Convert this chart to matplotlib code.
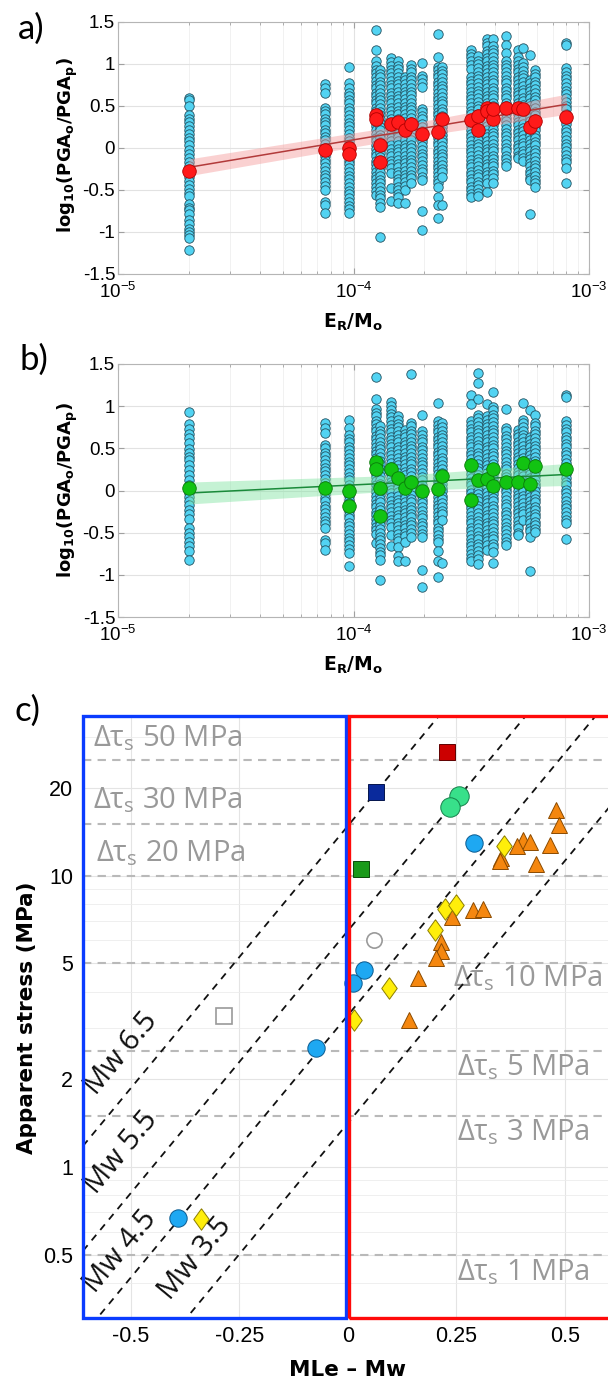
import matplotlib
matplotlib.use("Agg")
import matplotlib.pyplot as plt
import matplotlib.ticker as mticker
from matplotlib.patches import Rectangle
import numpy as np

plt.rcParams['font.family'] = ['Liberation Sans', 'DejaVu Sans']
plt.rcParams['mathtext.fontset'] = 'dejavusans'

# ---------------- panels a) and b): one column of stations per event ----------------
EVENT_X = [2.0e-5, 7.6e-5, 9.6e-5, 1.25e-4, 1.30e-4, 1.44e-4, 1.55e-4, 1.66e-4, 1.75e-4,
           1.95e-4, 2.28e-4, 2.38e-4, 3.17e-4, 3.38e-4, 3.69e-4, 3.91e-4, 4.44e-4, 5.0e-4,
           5.25e-4, 5.61e-4, 5.90e-4, 7.98e-4]

a_cols = [
    [0.60, 0.57, 0.50, 0.39, 0.35, 0.31, 0.26, 0.21, 0.17, 0.12, 0.08, 0.03, -0.02, -0.07, -0.12, -0.17, -0.21, -0.26, -0.30, -0.35, -0.39, -0.44, -0.49, -0.53, -0.57, -0.67, -0.71, -0.74, -0.78, -0.86, -0.91, -0.96, -1.00, -1.04, -1.07, -1.21],
    [0.76, 0.71, 0.66, 0.48, 0.44, 0.40, 0.35, 0.31, 0.27, 0.22, 0.18, 0.13, 0.09, 0.05, 0.00, -0.05, -0.09, -0.14, -0.18, -0.23, -0.27, -0.32, -0.36, -0.41, -0.45, -0.50, -0.64, -0.68, -0.77],
    [0.97, 0.77, 0.71, 0.66, 0.62, 0.57, 0.53, 0.48, 0.44, 0.39, 0.35, 0.30, 0.26, 0.21, 0.17, 0.12, 0.08, 0.03, -0.01, -0.06, -0.10, -0.15, -0.19, -0.24, -0.28, -0.33, -0.37, -0.42, -0.46, -0.51, -0.55, -0.60, -0.64, -0.69, -0.73, -0.77],
    [1.40, 1.17, 1.03, 0.98, 0.93, 0.89, 0.84, 0.80, 0.75, 0.71, 0.66, 0.62, 0.57, 0.53, 0.48, 0.44, 0.39, 0.35, 0.30, 0.26, 0.21, 0.17, 0.12, 0.08, 0.03, -0.01, -0.06, -0.10, -0.15, -0.19, -0.24, -0.28, -0.33, -0.37, -0.42, -0.46, -0.51, -0.56],
    [0.93, 0.88, 0.84, 0.79, 0.75, 0.70, 0.66, 0.61, 0.57, 0.52, 0.48, 0.43, 0.39, 0.34, 0.30, 0.25, 0.21, 0.16, 0.12, 0.07, 0.03, -0.02, -0.06, -0.11, -0.15, -0.20, -0.24, -0.29, -0.33, -0.38, -0.42, -0.47, -0.51, -0.56, -0.60, -0.65, -0.70, -1.06],
    [1.07, 1.02, 0.98, 0.93, 0.89, 0.84, 0.80, 0.75, 0.71, 0.66, 0.62, 0.57, 0.53, 0.48, 0.44, 0.39, 0.35, 0.30, 0.26, 0.21, 0.17, 0.12, 0.08, 0.03, -0.01, -0.06, -0.10, -0.15, -0.19, -0.24, -0.30, -0.48, -0.63],
    [1.03, 0.98, 0.94, 0.89, 0.85, 0.80, 0.76, 0.71, 0.67, 0.62, 0.58, 0.53, 0.49, 0.44, 0.40, 0.35, 0.31, 0.26, 0.22, 0.17, 0.13, 0.08, 0.04, -0.01, -0.05, -0.10, -0.14, -0.19, -0.23, -0.28, -0.32, -0.37, -0.41, -0.46, -0.50, -0.55, -0.58, -0.65],
    [0.85, 0.81, 0.76, 0.72, 0.67, 0.63, 0.58, 0.54, 0.49, 0.45, 0.40, 0.36, 0.31, 0.27, 0.22, 0.18, 0.13, 0.09, 0.04, 0.00, -0.05, -0.09, -0.14, -0.18, -0.23, -0.27, -0.32, -0.36, -0.41, -0.45, -0.50, -0.66],
    [0.99, 0.94, 0.90, 0.85, 0.81, 0.76, 0.72, 0.67, 0.63, 0.58, 0.54, 0.49, 0.45, 0.40, 0.36, 0.31, 0.27, 0.22, 0.18, 0.13, 0.09, 0.04, 0.00, -0.05, -0.09, -0.14, -0.18, -0.23, -0.27, -0.32, -0.36, -0.42],
    [1.01, 0.86, 0.82, 0.77, 0.73, 0.47, 0.43, 0.38, 0.34, 0.29, 0.25, 0.20, 0.16, 0.11, 0.07, 0.02, -0.02, -0.07, -0.11, -0.16, -0.20, -0.25, -0.29, -0.34, -0.38, -0.75, -0.98],
    [1.36, 1.08, 0.97, 0.93, 0.88, 0.84, 0.79, 0.75, 0.70, 0.66, 0.61, 0.57, 0.52, 0.48, 0.43, 0.39, 0.34, 0.30, 0.25, 0.21, 0.16, 0.12, 0.07, 0.03, -0.02, -0.06, -0.11, -0.15, -0.20, -0.24, -0.29, -0.33, -0.38, -0.42, -0.46, -0.58, -0.68, -0.83],
    [0.97, 0.92, 0.88, 0.83, 0.79, 0.74, 0.70, 0.65, 0.61, 0.56, 0.52, 0.47, 0.43, 0.38, 0.34, 0.29, 0.25, 0.20, 0.16, 0.11, 0.07, 0.02, -0.02, -0.07, -0.11, -0.16, -0.20, -0.25, -0.29, -0.34, -0.68],
    [1.17, 1.12, 1.08, 1.03, 0.99, 0.94, 0.85, 0.80, 0.76, 0.71, 0.67, 0.62, 0.58, 0.53, 0.49, 0.44, 0.40, 0.35, 0.31, 0.26, 0.22, 0.17, 0.13, 0.08, 0.04, -0.01, -0.05, -0.10, -0.14, -0.19, -0.23, -0.28, -0.32, -0.37, -0.41, -0.46, -0.50, -0.55, -0.58],
    [1.09, 1.04, 1.00, 0.95, 0.91, 0.86, 0.82, 0.77, 0.73, 0.68, 0.64, 0.59, 0.55, 0.50, 0.46, 0.41, 0.37, 0.32, 0.28, 0.23, 0.19, 0.14, 0.10, 0.05, 0.01, -0.04, -0.08, -0.13, -0.17, -0.22, -0.26, -0.31, -0.35, -0.40, -0.44, -0.49, -0.53, -0.57],
    [1.30, 1.25, 1.21, 1.16, 1.12, 1.07, 1.03, 0.98, 0.94, 0.89, 0.85, 0.80, 0.76, 0.71, 0.67, 0.62, 0.58, 0.53, 0.49, 0.44, 0.40, 0.35, 0.31, 0.26, 0.22, 0.17, 0.13, 0.08, 0.04, -0.01, -0.05, -0.10, -0.14, -0.19, -0.23, -0.28, -0.32, -0.37, -0.42, -0.52],
    [1.30, 1.22, 1.17, 1.13, 1.08, 1.04, 0.99, 0.95, 0.90, 0.86, 0.81, 0.77, 0.72, 0.68, 0.63, 0.59, 0.54, 0.50, 0.45, 0.41, 0.36, 0.32, 0.27, 0.23, 0.18, 0.14, 0.09, 0.05, 0.00, -0.04, -0.09, -0.13, -0.18, -0.22, -0.27, -0.31, -0.36, -0.42],
    [1.33, 1.23, 1.13, 1.04, 0.99, 0.95, 0.90, 0.86, 0.81, 0.77, 0.72, 0.68, 0.63, 0.59, 0.54, 0.50, 0.45, 0.41, 0.36, 0.32, 0.27, 0.23, 0.18, 0.14, 0.09, 0.05, 0.00, -0.04, -0.09, -0.13, -0.18, -0.22],
    [1.17, 1.08, 1.03, 0.99, 0.94, 0.90, 0.85, 0.81, 0.76, 0.72, 0.67, 0.63, 0.58, 0.54, 0.49, 0.45, 0.40, 0.36, 0.31, 0.27, 0.22, 0.18, 0.13, 0.09, 0.04, 0.00, -0.05, -0.09, -0.12],
    [1.19, 1.01, 0.96, 0.92, 0.87, 0.83, 0.78, 0.74, 0.69, 0.65, 0.60, 0.56, 0.51, 0.47, 0.42, 0.38, 0.33, 0.29, 0.24, 0.20, 0.15, 0.11, 0.06, 0.02, -0.03, -0.07, -0.12, -0.16],
    [1.11, 0.81, 0.77, 0.72, 0.68, 0.63, 0.59, 0.54, 0.50, 0.45, 0.41, 0.36, 0.32, 0.27, 0.23, 0.18, 0.14, 0.09, 0.05, 0.00, -0.04, -0.09, -0.13, -0.18, -0.22, -0.27, -0.31, -0.36, -0.38, -0.79],
    [0.93, 0.88, 0.84, 0.79, 0.75, 0.70, 0.66, 0.61, 0.57, 0.52, 0.48, 0.43, 0.39, 0.34, 0.30, 0.25, 0.21, 0.16, 0.12, 0.07, 0.03, -0.02, -0.06, -0.11, -0.15, -0.20, -0.24, -0.29, -0.33, -0.38, -0.42, -0.46],
    [1.25, 1.23, 0.95, 0.91, 0.86, 0.82, 0.77, 0.73, 0.68, 0.64, 0.59, 0.55, 0.50, 0.46, 0.41, 0.37, 0.32, 0.28, 0.23, 0.19, 0.14, 0.10, 0.05, 0.01, -0.04, -0.08, -0.13, -0.17, -0.24, -0.42],
]

b_cols = [
    [0.93, 0.79, 0.73, 0.67, 0.62, 0.56, 0.49, 0.44, 0.40, 0.36, 0.30, 0.24, 0.18, 0.12, 0.07, 0.02, -0.03, -0.08, -0.13, -0.17, -0.23, -0.28, -0.34, -0.45, -0.50, -0.55, -0.61, -0.66, -0.72, -0.83],
    [0.80, 0.74, 0.68, 0.54, 0.50, 0.45, 0.41, 0.36, 0.32, 0.27, 0.23, 0.18, 0.14, 0.09, 0.05, 0.00, -0.04, -0.09, -0.13, -0.18, -0.22, -0.27, -0.31, -0.36, -0.40, -0.45, -0.59, -0.62, -0.71],
    [0.84, 0.74, 0.66, 0.61, 0.57, 0.52, 0.48, 0.43, 0.39, 0.34, 0.30, 0.25, 0.21, 0.16, 0.12, 0.07, 0.03, -0.02, -0.06, -0.11, -0.15, -0.20, -0.24, -0.29, -0.33, -0.38, -0.42, -0.47, -0.51, -0.56, -0.60, -0.65, -0.69, -0.74, -0.90],
    [1.35, 1.09, 0.97, 0.92, 0.88, 0.83, 0.79, 0.74, 0.70, 0.65, 0.61, 0.56, 0.52, 0.47, 0.43, 0.38, 0.34, 0.29, 0.25, 0.20, 0.16, 0.11, 0.07, 0.02, -0.02, -0.07, -0.11, -0.16, -0.20, -0.25, -0.29, -0.34, -0.38, -0.43, -0.47, -0.51, -0.62],
    [0.76, 0.71, 0.67, 0.62, 0.58, 0.53, 0.49, 0.44, 0.40, 0.35, 0.31, 0.26, 0.22, 0.17, 0.13, 0.08, 0.04, -0.01, -0.05, -0.10, -0.14, -0.19, -0.23, -0.28, -0.32, -0.37, -0.41, -0.46, -0.50, -0.55, -0.59, -0.64, -0.68, -0.73, -0.77, -0.82, -1.06],
    [1.05, 1.00, 0.96, 0.91, 0.87, 0.82, 0.78, 0.73, 0.69, 0.64, 0.60, 0.55, 0.51, 0.46, 0.42, 0.37, 0.33, 0.28, 0.24, 0.19, 0.15, 0.10, 0.06, 0.01, -0.03, -0.08, -0.12, -0.17, -0.21, -0.26, -0.30, -0.35, -0.39, -0.43, -0.53, -0.66],
    [0.88, 0.84, 0.79, 0.75, 0.70, 0.66, 0.61, 0.57, 0.52, 0.48, 0.43, 0.39, 0.34, 0.30, 0.25, 0.21, 0.16, 0.12, 0.07, 0.03, -0.02, -0.06, -0.11, -0.15, -0.20, -0.24, -0.29, -0.33, -0.38, -0.42, -0.47, -0.51, -0.56, -0.60, -0.67, -0.78, -0.84],
    [0.72, 0.67, 0.63, 0.58, 0.54, 0.49, 0.45, 0.40, 0.36, 0.31, 0.27, 0.22, 0.18, 0.13, 0.09, 0.04, 0.00, -0.05, -0.09, -0.14, -0.18, -0.23, -0.27, -0.32, -0.36, -0.41, -0.45, -0.50, -0.54, -0.61, -0.84],
    [1.38, 0.80, 0.76, 0.71, 0.67, 0.62, 0.58, 0.53, 0.49, 0.44, 0.40, 0.35, 0.31, 0.26, 0.22, 0.17, 0.13, 0.08, 0.04, -0.01, -0.05, -0.10, -0.14, -0.19, -0.23, -0.28, -0.32, -0.37, -0.41, -0.46, -0.50, -0.55],
    [0.90, 0.70, 0.66, 0.61, 0.57, 0.52, 0.48, 0.43, 0.39, 0.34, 0.30, 0.25, 0.21, 0.16, 0.12, 0.07, 0.03, -0.02, -0.06, -0.11, -0.15, -0.20, -0.24, -0.29, -0.33, -0.38, -0.42, -0.47, -0.51, -0.55, -0.94, -1.15],
    [1.04, 0.82, 0.78, 0.73, 0.69, 0.64, 0.60, 0.55, 0.51, 0.46, 0.42, 0.37, 0.33, 0.28, 0.24, 0.19, 0.15, 0.10, 0.06, 0.01, -0.03, -0.08, -0.12, -0.17, -0.21, -0.26, -0.30, -0.35, -0.39, -0.44, -0.48, -0.53, -0.57, -0.61, -0.72, -0.84, -1.03],
    [0.80, 0.75, 0.71, 0.66, 0.62, 0.57, 0.53, 0.48, 0.44, 0.39, 0.35, 0.30, 0.26, 0.21, 0.17, 0.12, 0.08, 0.03, -0.01, -0.06, -0.10, -0.15, -0.19, -0.24, -0.28, -0.35, -0.86],
    [1.13, 1.03, 0.82, 0.78, 0.73, 0.69, 0.64, 0.60, 0.55, 0.51, 0.46, 0.42, 0.37, 0.33, 0.28, 0.24, 0.19, 0.15, 0.10, 0.06, 0.01, -0.03, -0.08, -0.12, -0.17, -0.21, -0.26, -0.30, -0.35, -0.39, -0.44, -0.48, -0.53, -0.57, -0.62, -0.66, -0.71, -0.75, -0.80, -0.84],
    [1.39, 1.28, 1.09, 0.90, 0.86, 0.81, 0.77, 0.72, 0.68, 0.63, 0.59, 0.54, 0.50, 0.45, 0.41, 0.36, 0.32, 0.27, 0.23, 0.18, 0.14, 0.09, 0.05, 0.00, -0.04, -0.09, -0.13, -0.18, -0.22, -0.27, -0.31, -0.36, -0.40, -0.45, -0.49, -0.54, -0.58, -0.63, -0.67, -0.72, -0.76, -0.81, -0.87],
    [1.03, 0.88, 0.84, 0.79, 0.75, 0.70, 0.66, 0.61, 0.57, 0.52, 0.48, 0.43, 0.39, 0.34, 0.30, 0.25, 0.21, 0.16, 0.12, 0.07, 0.03, -0.02, -0.06, -0.11, -0.15, -0.20, -0.24, -0.29, -0.33, -0.38, -0.42, -0.47, -0.51, -0.56, -0.60, -0.65, -0.71],
    [1.17, 0.99, 0.95, 0.90, 0.86, 0.81, 0.77, 0.72, 0.68, 0.63, 0.59, 0.54, 0.50, 0.45, 0.41, 0.36, 0.32, 0.27, 0.23, 0.18, 0.14, 0.09, 0.05, 0.00, -0.04, -0.09, -0.13, -0.18, -0.22, -0.27, -0.31, -0.36, -0.40, -0.45, -0.49, -0.54, -0.58, -0.63, -0.67, -0.73, -0.86],
    [0.97, 0.74, 0.70, 0.65, 0.61, 0.56, 0.52, 0.47, 0.43, 0.38, 0.34, 0.29, 0.25, 0.20, 0.16, 0.11, 0.07, 0.02, -0.02, -0.07, -0.11, -0.16, -0.20, -0.25, -0.29, -0.34, -0.38, -0.43, -0.47, -0.52, -0.56, -0.61, -0.65],
    [0.72, 0.67, 0.63, 0.58, 0.54, 0.49, 0.45, 0.40, 0.36, 0.31, 0.27, 0.22, 0.18, 0.13, 0.09, 0.04, 0.00, -0.05, -0.09, -0.14, -0.18, -0.23, -0.27, -0.32, -0.36, -0.41, -0.45, -0.50, -0.53],
    [1.04, 0.84, 0.80, 0.75, 0.71, 0.66, 0.62, 0.57, 0.53, 0.48, 0.44, 0.39, 0.35, 0.30, 0.26, 0.21, 0.17, 0.12, 0.08, 0.03, -0.01, -0.06, -0.10, -0.15, -0.19, -0.24, -0.28, -0.35],
    [0.95, 0.64, 0.60, 0.55, 0.51, 0.46, 0.42, 0.37, 0.33, 0.28, 0.24, 0.19, 0.15, 0.10, 0.06, 0.01, -0.03, -0.08, -0.12, -0.17, -0.21, -0.26, -0.30, -0.35, -0.39, -0.44, -0.48, -0.55, -0.95],
    [0.90, 0.80, 0.76, 0.71, 0.67, 0.62, 0.58, 0.53, 0.49, 0.44, 0.40, 0.35, 0.31, 0.26, 0.22, 0.17, 0.13, 0.08, 0.04, -0.01, -0.05, -0.10, -0.14, -0.19, -0.23, -0.28, -0.32, -0.37, -0.41, -0.46, -0.49],
    [1.13, 1.11, 0.82, 0.78, 0.73, 0.69, 0.64, 0.60, 0.55, 0.51, 0.46, 0.42, 0.37, 0.33, 0.28, 0.24, 0.19, 0.15, 0.10, 0.06, 0.01, -0.03, -0.08, -0.12, -0.17, -0.21, -0.26, -0.30, -0.35, -0.39, -0.58],
]

# event means
red_x = [2.0e-5, 7.6e-5, 9.6e-5, 9.6e-5, 1.25e-4, 1.25e-4, 1.30e-4, 1.30e-4, 1.44e-4, 1.55e-4,
         1.66e-4, 1.75e-4, 1.95e-4, 2.28e-4, 2.38e-4, 3.17e-4, 3.38e-4, 3.38e-4, 3.69e-4, 3.69e-4,
         3.91e-4, 3.91e-4, 4.44e-4, 5.0e-4, 5.25e-4, 5.61e-4, 5.90e-4, 7.98e-4]
red_y = [-0.27, -0.02, 0.00, -0.07, 0.39, 0.35, 0.04, -0.17, 0.29, 0.31,
         0.22, 0.29, 0.17, 0.19, 0.35, 0.33, 0.22, 0.38, 0.48, 0.44,
         0.35, 0.47, 0.48, 0.48, 0.47, 0.25, 0.32, 0.37]
green_x = [2.0e-5, 7.6e-5, 9.6e-5, 9.6e-5, 1.25e-4, 1.25e-4, 1.30e-4, 1.30e-4, 1.44e-4, 1.55e-4,
           1.66e-4, 1.75e-4, 1.95e-4, 2.28e-4, 2.38e-4, 3.17e-4, 3.17e-4, 3.38e-4, 3.69e-4, 3.91e-4,
           3.91e-4, 4.44e-4, 5.0e-4, 5.25e-4, 5.61e-4, 5.90e-4, 7.98e-4]
green_y = [0.03, 0.03, 0.00, -0.18, 0.34, 0.25, 0.03, -0.30, 0.26, 0.15,
           0.03, 0.10, -0.01, 0.02, 0.17, 0.30, -0.11, 0.12, 0.14, 0.25,
           0.05, 0.10, 0.10, 0.33, 0.08, 0.29, 0.25]

# fitted lines and confidence bands
fit_x = [2.0e-5, 8.0e-4]
a_fit_y = [-0.23, 0.52]
b_fit_y = [-0.03, 0.19]
band_x = [2.0e-5, 1.6e-4, 8.0e-4]
a_band_lo = [-0.33, 0.11, 0.40]
a_band_hi = [-0.13, 0.27, 0.64]
b_band_lo = [-0.16, 0.00, 0.06]
b_band_hi = [0.10, 0.18, 0.32]

# ---------------- panel c) ----------------
tau_levels = [25, 15, 10, 5, 2.5, 1.5, 0.5]
tau_labels = ['50', '30', '20', '10', '5', '3', '1']
tau_text_x = [-0.588, -0.588, -0.58, 0.242, 0.251, 0.251, 0.251]
tau_text_y = [29.6, 18.2, 11.9, 4.45, 2.2, 1.31, 0.436]

mw_labels = ['Mw 6.5', 'Mw 5.5', 'Mw 4.5', 'Mw 3.5']
mw_log_at0 = [1.17, 0.81, 0.52, 0.15]   # log10 stress where line meets MLe-Mw = 0
mw_slope = 1.8
mw_text_x = [-0.522, -0.522, -0.524, -0.352]
mw_text_y = [2.45, 1.12, 0.51, 0.485]

red_sq_x, red_sq_y = [0.229], [26.6]
navy_sq_x, navy_sq_y = [0.064], [19.4]
green_sq_x, green_sq_y = [0.030], [10.5]
open_sq_x, open_sq_y = [-0.284], [3.3]
lgreen_x, lgreen_y = [0.256, 0.236], [18.7, 17.2]
blue_x = [0.292, 0.0375, 0.0125, -0.074, -0.391]
blue_y = [12.9, 4.74, 4.28, 2.56, 0.67]
open_c_x, open_c_y = [0.060], [6.0]
tri_x = [0.479, 0.486, 0.404, 0.420, 0.390, 0.466, 0.354, 0.350, 0.433, 0.289, 0.312,
         0.241, 0.216, 0.216, 0.203, 0.161, 0.140]
tri_y = [16.8, 14.9, 13.2, 13.0, 12.6, 12.7, 11.5, 11.2, 11.0, 7.6, 7.7,
         7.2, 5.9, 5.5, 5.2, 4.45, 3.19]
dia_x = [0.359, 0.223, 0.250, 0.200, 0.096, 0.015, -0.339]
dia_y = [12.6, 7.7, 7.9, 6.5, 4.1, 3.19, 0.66]

W, H = 608, 1385
fig = plt.figure(figsize=(W / 100, H / 100), dpi=100)
ax_a = fig.add_axes([118 / W, 1 - 274 / H, 471 / W, 252 / H])
ax_b = fig.add_axes([118 / W, 1 - 617 / H, 471 / W, 253 / H])
XL, XR = -0.61, 0.65
ax_c = fig.add_axes([83 / W, 1 - 1318 / H, (XR - XL) * 434 / W, 602 / H])


def pga_panel(ax, cols, mx, my, fit_y, lo, hi, face, edge, line_col, band_col):
    for x, ys in zip(EVENT_X, cols):
        ax.scatter([x] * len(ys), ys, s=46, c='#52d3f2', edgecolors='#22505f',
                   linewidths=0.6, zorder=2)
    ax.fill_between(band_x, lo, hi, color=band_col, alpha=0.45, lw=0, zorder=3)
    ax.plot(fit_x, fit_y, color=line_col, lw=1.1, zorder=4)
    ax.scatter(mx, my, s=95, c=face, edgecolors=edge, linewidths=0.6, zorder=5)
    ax.set_xscale('log')
    ax.set_xlim(1e-5, 1e-3)
    ax.set_ylim(-1.5, 1.5)
    ax.set_yticks([-1.5, -1, -0.5, 0, 0.5, 1, 1.5])
    ax.set_yticklabels(['-1.5', '-1', '-0.5', '0', '0.5', '1', '1.5'])
    ax.grid(which='major', color='#e2e2e2', lw=0.8)
    ax.grid(which='minor', axis='x', color='#efefef', lw=0.6)
    ax.set_axisbelow(True)
    for sp in ax.spines.values():
        sp.set_color('#b5b5b5')
    ax.tick_params(which='both', direction='in', top=True, right=True, color='#a0a0a0',
                   labelsize=13.5)
    ax.tick_params(which='major', length=4)
    ax.tick_params(which='minor', length=2.5)
    ax.tick_params(axis='y', pad=2)
    ax.tick_params(axis='x', pad=6)


pga_panel(ax_a, a_cols, red_x, red_y, a_fit_y, a_band_lo, a_band_hi,
          '#ff1a1a', '#b00000', '#b23a3a', '#f59a9a')
pga_panel(ax_b, b_cols, green_x, green_y, b_fit_y, b_band_lo, b_band_hi,
          '#12c312', '#0a7a0a', '#1a8a3a', '#7fe3a0')

ylab_ab = r'$\bf{log_{10}(PGA_o/PGA_p)}$'
xlab_ab = r'$\bf{E_R/M_o}$'
fig.text(68 / W, 1 - 145 / H, ylab_ab, rotation=90, ha='center', va='center', fontsize=13)
fig.text(68 / W, 1 - 490 / H, ylab_ab, rotation=90, ha='center', va='center', fontsize=13)
fig.text(353 / W, 1 - 322 / H, xlab_ab, ha='center', va='center', fontsize=13.5)
fig.text(353 / W, 1 - 665 / H, xlab_ab, ha='center', va='center', fontsize=13.5)

# ---- panel c
ax_c.set_yscale('log')
ax_c.set_xlim(XL, XR)
ax_c.set_ylim(0.303, 35.3)
ax_c.xaxis.set_major_locator(mticker.FixedLocator([-0.5, -0.25, 0, 0.25, 0.5]))
ax_c.xaxis.set_major_formatter(mticker.FixedFormatter(['-0.5', '-0.25', '0', '0.25', '0.5']))
ax_c.yaxis.set_major_locator(mticker.FixedLocator([0.5, 1, 2, 5, 10, 20]))
ax_c.yaxis.set_major_formatter(mticker.FixedFormatter(['0.5', '1', '2', '5', '10', '20']))
ax_c.yaxis.set_minor_locator(mticker.LogLocator(base=10, subs=np.arange(2, 10)))
ax_c.yaxis.set_minor_formatter(mticker.NullFormatter())
ax_c.grid(which='major', color='#e4e4e4', lw=0.8)
ax_c.grid(which='minor', axis='y', color='#ececec', lw=0.6)
ax_c.set_axisbelow(True)
for sp in ax_c.spines.values():
    sp.set_visible(False)
ax_c.tick_params(which='both', length=0, labelsize=15.5)
ax_c.tick_params(axis='y', pad=7)
ax_c.tick_params(axis='x', pad=6)

for lv in tau_levels:
    ax_c.axhline(lv, color='#b9b9b9', ls=(0, (4, 3)), lw=1.5, zorder=1)
for lab, tx, ty in zip(tau_labels, tau_text_x, tau_text_y):
    ax_c.text(tx, ty, r'$\mathregular{\Delta\tau_s}$ ' + lab + ' MPa', color='#999999',
              fontsize=21, family='Open Sans', ha='left', va='center', zorder=2)

xs = np.array([XL, XR])
p0 = ax_c.transData.transform((0, 1))
p1 = ax_c.transData.transform((0.1, 10 ** (mw_slope * 0.1)))
ang = np.degrees(np.arctan2(p1[1] - p0[1], p1[0] - p0[0]))
for lab, b0, tx, ty in zip(mw_labels, mw_log_at0, mw_text_x, mw_text_y):
    ax_c.plot(xs, 10 ** (b0 + mw_slope * xs), color='#111111', ls=(0, (4, 3.5)), lw=1.3, zorder=3)
    ax_c.text(tx, ty, lab, rotation=ang, rotation_mode='anchor', ha='center', va='center',
              fontsize=21, family='Open Sans', color='#111111', zorder=3)

ax_c.add_patch(Rectangle((XL, 0), -0.004 - XL, 1, transform=ax_c.get_xaxis_transform(),
                         fill=False, ec='#0a3cff', lw=2.4, clip_on=False, zorder=6))
ax_c.add_patch(Rectangle((0.004, 0), XR + 0.05, 1, transform=ax_c.get_xaxis_transform(),
                         fill=False, ec='#ff0a0a', lw=2.4, clip_on=False, zorder=6))

diamond = [(0, 1), (0.72, 0), (0, -1), (-0.72, 0), (0, 1)]
mk = dict(ls='none', mew=0.7, zorder=5)
ax_c.plot(tri_x, tri_y, marker='^', ms=12, mfc='#f5870f', mec='#8a4a00', **mk)
ax_c.plot(dia_x, dia_y, marker=diamond, ms=15.5, mfc='#ffee0a', mec='#8c7d00', **mk)
ax_c.plot(blue_x, blue_y, marker='o', ms=12.5, mfc='#1ea8f2', mec='#0a5a90', **mk)
ax_c.plot(lgreen_x, lgreen_y, marker='o', ms=14, mfc='#38e08a', mec='#15804a', **mk)
ax_c.plot(open_c_x, open_c_y, marker='o', ms=11, mfc='white', mec='#9a9a9a', mew=1.2,
          ls='none', zorder=5)
ax_c.plot(red_sq_x, red_sq_y, marker='s', ms=11, mfc='#cc0000', mec='#600000', **mk)
ax_c.plot(navy_sq_x, navy_sq_y, marker='s', ms=11, mfc='#0a2a9c', mec='#05154d', **mk)
ax_c.plot(green_sq_x, green_sq_y, marker='s', ms=11, mfc='#1a9a1a', mec='#0a4a0a', **mk)
ax_c.plot(open_sq_x, open_sq_y, marker='s', ms=11, mfc='white', mec='#9a9a9a', mew=1.2,
          ls='none', zorder=5)

fig.text(27 / W, 1 - 1018 / H, 'Apparent stress (MPa)', rotation=90, ha='center',
         va='center', fontsize=15.5, fontweight='bold', family='DejaVu Sans')
fig.text(348 / W, 1 - 1370 / H, 'MLe \u2013 Mw', ha='center', va='center',
         fontsize=15.5, fontweight='bold', family='DejaVu Sans')

for lab, px, py in [('a)', 31, 29), ('b)', 34, 360), ('c)', 27, 711)]:
    fig.text(px / W, 1 - py / H, lab, ha='center', va='center', fontsize=25,
             family=['Lato', 'DejaVu Sans'])

fig.savefig('out.png', dpi=100)
